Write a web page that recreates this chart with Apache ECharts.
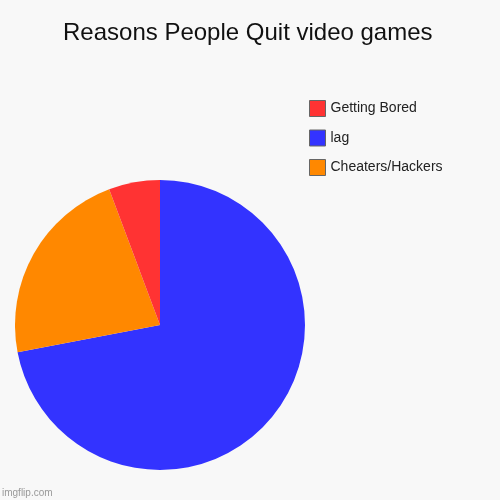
<!DOCTYPE html>
<html>
<head>
<meta charset="utf-8">
<script src="https://cdn.jsdelivr.net/npm/echarts@6/dist/echarts.min.js"></script>
<style>html,body{margin:0;padding:0;background:#f8f8f8;}#c{width:500px;height:500px;}</style>
</head>
<body>
<div id="c"></div>
<script>
const categories = ["lag", "Cheaters/Hackers", "Getting Bored"];
const values = [72, 22.3, 5.7];
const colors = ["#3333ff", "#ff8800", "#ff3333"];
const legendOrder = ["Getting Bored", "lag", "Cheaters/Hackers"];

const chart = echarts.init(document.getElementById('c'));
chart.setOption({
  backgroundColor: '#f8f8f8',
  animation: false,
  title: {
    text: 'Reasons People Quit video games',
    left: 58,
    top: 16,
    textStyle: { fontFamily: 'Liberation Sans, Arial', fontSize: 24, fontWeight: 'normal', color: '#111' }
  },
  legend: {
    data: legendOrder,
    orient: 'vertical',
    left: 309,
    top: 100,
    padding: 0,
    itemWidth: 16,
    itemHeight: 16,
    itemGap: 12.5,
    icon: 'rect',
    itemStyle: { borderColor: '#666', borderWidth: 1 },
    textStyle: { fontFamily: 'Liberation Sans, Arial', fontSize: 14, lineHeight: 16, color: '#222' },
    selectedMode: false
  },
  graphic: [{
    type: 'text', left: 2, bottom: 2,
    style: { text: 'imgflip.com', fontFamily: 'Liberation Sans, Arial', fontSize: 10, fill: '#999' }
  }],
  series: [{
    type: 'pie',
    center: [160, 325],
    radius: [0, 145],
    startAngle: 90,
    clockwise: true,
    label: { show: false },
    labelLine: { show: false },
    itemStyle: { borderWidth: 0 },
    emphasis: { disabled: true },
    data: categories.map((c, i) => ({ name: c, value: values[i], itemStyle: { color: colors[i] } }))
  }]
});
</script>
</body>
</html>
